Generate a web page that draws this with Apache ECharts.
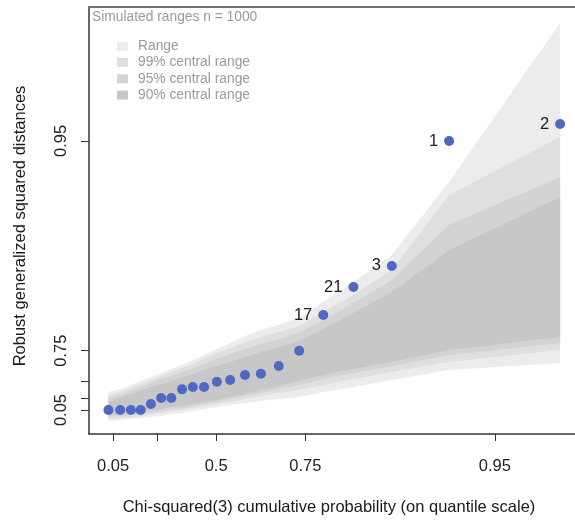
<!DOCTYPE html>
<html>
<head>
<meta charset="utf-8">
<title>Robust distance QQ plot</title>
<script src="https://cdn.jsdelivr.net/npm/echarts@6/dist/echarts.min.js"></script>
<style>
  html, body { margin: 0; padding: 0; background: #ffffff; overflow: hidden; }
  #main { width: 580px; height: 520px; }
</style>
</head>
<body>
<div id="main"></div>
<script>
// Theoretical Chi-squared(3) quantiles of the plotting positions (x)
const theoQuantiles = [0.26, 0.49, 0.70, 0.89, 1.09, 1.29, 1.49, 1.70, 1.91, 2.13, 2.38,
  2.64, 2.93, 3.24, 3.59, 3.99, 4.46, 5.05, 5.80, 6.92, 9.09];

// Sorted robust generalized squared distances (y)
const distances = [1.84, 1.84, 1.84, 1.84, 2.30, 2.77, 2.77, 3.43, 3.61, 3.61, 4.02,
  4.15, 4.53, 4.63, 5.22, 6.40, 9.14, 11.29, 12.91, 22.51, 23.81];

// Observation numbers shown next to the largest distances
const pointIds = ['', '', '', '', '', '', '', '', '', '', '',
  '', '', '', '', '', '17', '21', '3', '1', '2'];

// Simulated envelopes of the sorted distances (n = 1000 simulations)
const rangeLo = [1.00, 1.08, 1.15, 1.23, 1.31, 1.38, 1.54, 1.61, 1.77, 1.92, 2.07,
  2.23, 2.38, 2.53, 2.69, 2.84, 3.23, 3.61, 4.15, 4.92, 5.45];
const rangeHi = [3.23, 3.46, 3.76, 4.07, 4.38, 4.69, 4.99, 5.30, 5.68, 6.07, 6.53,
  6.99, 7.53, 7.99, 8.37, 8.91, 10.14, 11.68, 13.75, 19.36, 31.57];
const q99Lo = [1.15, 1.23, 1.31, 1.38, 1.54, 1.61, 1.77, 1.84, 2.00, 2.15, 2.30,
  2.46, 2.69, 2.92, 3.15, 3.38, 3.76, 4.22, 4.76, 5.53, 6.45];
const q99Hi = [3.00, 3.23, 3.53, 3.84, 4.15, 4.46, 4.76, 5.07, 5.38, 5.76, 6.22,
  6.61, 7.07, 7.45, 7.84, 8.30, 9.37, 10.68, 12.60, 18.36, 22.81];
const q95Lo = [1.31, 1.38, 1.46, 1.54, 1.69, 1.77, 1.92, 2.00, 2.15, 2.30, 2.46,
  2.69, 2.92, 3.15, 3.46, 3.76, 4.22, 4.69, 5.22, 6.07, 6.99];
const q95Hi = [2.77, 3.00, 3.30, 3.61, 3.92, 4.22, 4.46, 4.76, 5.07, 5.38, 5.76,
  6.15, 6.53, 6.91, 7.30, 7.76, 8.76, 10.06, 11.83, 16.05, 19.74];
const q90Lo = [1.46, 1.54, 1.61, 1.69, 1.84, 1.92, 2.07, 2.15, 2.30, 2.46, 2.61,
  2.84, 3.07, 3.38, 3.69, 4.07, 4.53, 4.99, 5.53, 6.45, 7.45];
const q90Hi = [2.53, 2.77, 3.07, 3.30, 3.61, 3.84, 4.07, 4.38, 4.61, 4.92, 5.22,
  5.53, 5.91, 6.30, 6.68, 7.14, 8.07, 9.29, 10.91, 14.13, 18.21];

// Tick probabilities and their labels
const tickProbs = [0.05, 0.25, 0.5, 0.75, 0.95];
const xTickLabels = ['0.05', '', '0.5', '0.75', '0.95'];
const yTickLabels = ['0.05', '', '', '0.75', '0.95'];
// Chi-squared(3) quantiles at the tick probabilities
const chisq3AtTicks = [0.3518, 1.2125, 2.3660, 4.1083, 7.8147];

// Empirical (type 7) quantile of the distances for the y ticks
function quantile7(sorted, p) {
  const h = (sorted.length - 1) * p;
  const lo = Math.floor(h);
  const hi = Math.min(lo + 1, sorted.length - 1);
  return sorted[lo] + (h - lo) * (sorted[hi] - sorted[lo]);
}
const sortedDist = distances.slice().sort((a, b) => a - b);
const yTickPos = tickProbs.map(p => quantile7(sortedDist, p));

function labelFor(positions, labels) {
  return function (value) {
    let best = 0, bestD = Infinity;
    positions.forEach((v, i) => {
      const d = Math.abs(v - value);
      if (d < bestD) { bestD = d; best = i; }
    });
    return bestD < 1e-6 ? labels[best] : '';
  };
}

const FONT = '"Liberation Sans", Arial, Helvetica, sans-serif';

const bands = [
  { name: 'Range', lo: rangeLo, hi: rangeHi, color: '#ececec' },
  { name: '99% central range', lo: q99Lo, hi: q99Hi, color: '#dfdfdf' },
  { name: '95% central range', lo: q95Lo, hi: q95Hi, color: '#d3d3d3' },
  { name: '90% central range', lo: q90Lo, hi: q90Hi, color: '#c7c7c7' }
];

function bandSeries(b, k) {
  return {
    type: 'custom',
    name: b.name,
    coordinateSystem: 'cartesian2d',
    itemStyle: { color: b.color },
    data: theoQuantiles.map((x, i) => [x, b.lo[i], b.hi[i]]),
    encode: { x: 0, y: [1, 2] },
    silent: true,
    z: 1 + k,
    renderItem: function (params, api) {
      if (params.dataIndexInside !== 0) return null;
      const n = params.dataInsideLength;
      const upper = [], lower = [];
      for (let i = 0; i < n; i++) {
        upper.push(api.coord([api.value(0, i), api.value(2, i)]));
        lower.push(api.coord([api.value(0, i), api.value(1, i)]));
      }
      return {
        type: 'polygon',
        shape: { points: upper.concat(lower.reverse()) },
        style: { fill: api.visual('color'), stroke: null }
      };
    }
  };
}

const axisLineStyle = { color: '#333333', width: 1.5 };
const X_MIN = -0.12, X_MAX = 9.44;

const option = {
  animation: false,
  backgroundColor: '#ffffff',
  grid: { left: 89, right: 2, top: 7, bottom: 86, show: false },
  xAxis: [{
    type: 'value', min: X_MIN, max: X_MAX,
    splitLine: { show: false },
    axisLine: { show: true, onZero: false, lineStyle: axisLineStyle },
    axisTick: { show: true, customValues: chisq3AtTicks, length: 7, lineStyle: { color: '#333', width: 1 } },
    axisLabel: {
      customValues: chisq3AtTicks, formatter: labelFor(chisq3AtTicks, xTickLabels),
      margin: 24, fontSize: 16.5, color: '#222', fontFamily: FONT
    }
  }, {
    // top edge of the plot frame
    type: 'value', position: 'top', min: X_MIN, max: X_MAX,
    splitLine: { show: false },
    axisLine: { show: true, onZero: false, lineStyle: { color: '#707070', width: 2 } },
    axisTick: { show: false },
    axisLabel: { show: false }
  }],
  yAxis: {
    type: 'value', min: 0, max: 32.8,
    splitLine: { show: false },
    axisLine: { show: true, onZero: false, lineStyle: axisLineStyle },
    axisTick: { show: true, customValues: yTickPos, length: 8, lineStyle: { color: '#333', width: 1 } },
    axisLabel: {
      customValues: yTickPos, formatter: labelFor(yTickPos, yTickLabels),
      rotate: 90, margin: 19, fontSize: 16.5, color: '#222', fontFamily: FONT
    }
  },
  legend: {
    data: bands.map(b => b.name),
    orient: 'vertical',
    left: 112, top: 33,
    icon: 'rect', itemWidth: 11, itemHeight: 9, itemGap: 0,
    selectedMode: false,
    textStyle: { fontSize: 13.8, color: '#9a9a9a', fontFamily: FONT, lineHeight: 16.3, padding: [0, 0, 0, 5] }
  },
  graphic: [
    {
      type: 'text', left: 92, top: 10,
      style: { text: 'Simulated ranges n = 1000', font: '13.8px ' + FONT, fill: '#9a9a9a' }
    },
    {
      type: 'text', x: 20, y: 226, rotation: Math.PI / 2,
      style: { text: 'Robust generalized squared distances', font: '16.5px ' + FONT, fill: '#1a1a1a',
        align: 'center', verticalAlign: 'middle' }
    },
    {
      type: 'text', x: 329, y: 507,
      style: { text: 'Chi-squared(3) cumulative probability (on quantile scale)', font: '16.5px ' + FONT,
        fill: '#1a1a1a', align: 'center', verticalAlign: 'middle' }
    }
  ],
  series: bands.map(bandSeries).concat([{
    type: 'scatter',
    name: 'distances',
    symbol: 'circle',
    symbolSize: 10,
    z: 10,
    itemStyle: { color: '#4f69c3', opacity: 1 },
    label: { position: 'left', distance: 6, fontSize: 16.5, color: '#222', fontFamily: FONT },
    data: theoQuantiles.map((x, i) => ({
      value: [x, distances[i]],
      label: pointIds[i] ? { show: true, formatter: pointIds[i] } : { show: false }
    }))
  }])
};

const chart = echarts.init(document.getElementById('main'));
chart.setOption(option);
</script>
</body>
</html>
